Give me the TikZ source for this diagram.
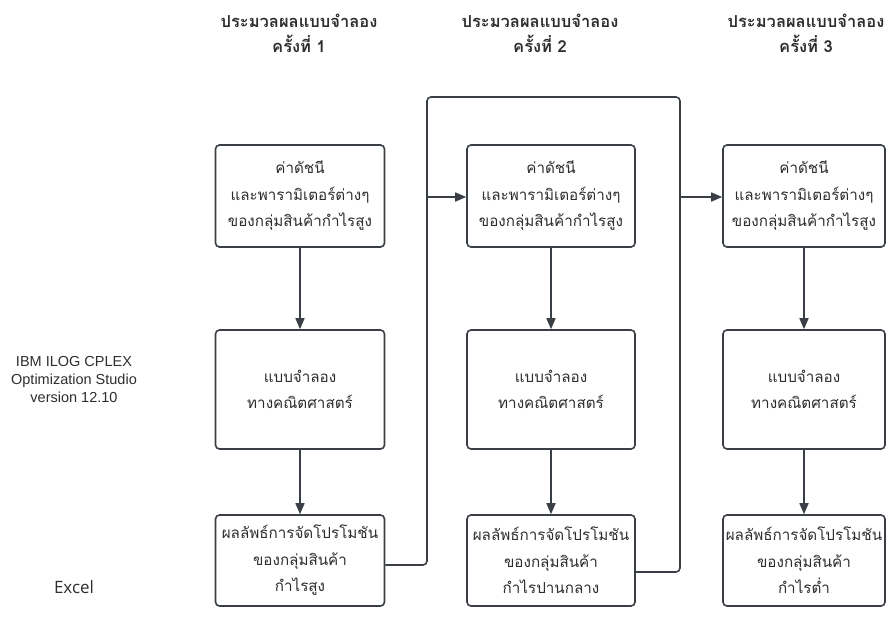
\documentclass[tikz,border=0pt]{standalone}
\usepackage{fontspec}
\setmainfont{Liberation Sans}
\newfontfamily\thaifont[Script=Thai]{Loma}
\newfontfamily\exfont{Open Sans}
\usetikzlibrary{arrows.meta}
\definecolor{linec}{HTML}{3A3E45}
\definecolor{textc}{HTML}{2E2E2E}
\tikzset{
  boxnode/.style={draw=linec, line width=1.6pt, rounded corners=4pt, fill=white,
    align=center, text=textc, font=\thaifont\fontsize{15.2}{26.5}\selectfont, inner sep=0pt},
  headnode/.style={align=center, text=textc, font=\thaifont\bfseries\fontsize{16.5}{25}\selectfont},
  conn/.style={draw=linec, line width=1.6pt, rounded corners=4pt},
  arr/.style={conn, -{Triangle[length=11pt,width=9pt]}}
}
\begin{document}
\begin{tikzpicture}[x=1pt,y=-1pt]
\useasboundingbox (0,0) rectangle (889,616);
% headers
\node[headnode] (h1) at (299,33) {ประมวลผลแบบจำลอง\\ครั้งที่ 1};
\node[headnode] (h2) at (540,33) {ประมวลผลแบบจำลอง\\ครั้งที่ 2};
\node[headnode] (h3) at (806,33) {ประมวลผลแบบจำลอง\\ครั้งที่ 3};
% side labels
\node[align=center, text=textc, font=\fontsize{14.5}{18}\selectfont] (ibm) at (74,380) {IBM ILOG CPLEX\\Optimization Studio\\version 12.10};
\node[text=textc, font=\exfont\fontsize{17}{20}\selectfont] (excel) at (74,587) {Excel};
% column 1
\node[boxnode, minimum width=169pt, minimum height=102pt] (p1) at (300,196) {ค่าดัชนี\\และพารามิเตอร์ต่างๆ\\ของกลุ่มสินค้ากำไรสูง};
\node[boxnode, minimum width=169pt, minimum height=119pt] (m1) at (300,389.5) {แบบจำลอง\\ทางคณิตศาสตร์};
\node[boxnode, minimum width=169pt, minimum height=91pt] (r1) at (300,560.5) {ผลลัพธ์การจัดโปรโมชัน\\ของกลุ่มสินค้า\\กำไรสูง};
% column 2
\node[boxnode, minimum width=168pt, minimum height=102pt] (p2) at (551,196) {ค่าดัชนี\\และพารามิเตอร์ต่างๆ\\ของกลุ่มสินค้ากำไรสูง};
\node[boxnode, minimum width=168pt, minimum height=119pt] (m2) at (551,389.5) {แบบจำลอง\\ทางคณิตศาสตร์};
\node[boxnode, minimum width=168pt, minimum height=91pt] (r2) at (551,560.5) {ผลลัพธ์การจัดโปรโมชัน\\ของกลุ่มสินค้า\\กำไรปานกลาง};
% column 3
\node[boxnode, minimum width=162pt, minimum height=102pt] (p3) at (804,196) {ค่าดัชนี\\และพารามิเตอร์ต่างๆ\\ของกลุ่มสินค้ากำไรสูง};
\node[boxnode, minimum width=162pt, minimum height=119pt] (m3) at (804,389.5) {แบบจำลอง\\ทางคณิตศาสตร์};
\node[boxnode, minimum width=162pt, minimum height=91pt] (r3) at (804,560.5) {ผลลัพธ์การจัดโปรโมชัน\\ของกลุ่มสินค้า\\กำไรต่ำ};
% vertical arrows
\foreach \c in {1,2,3}{
  \draw[arr] (p\c.south) -- (m\c.north);
  \draw[arr] (m\c.south) -- (r\c.north);
}
% routing coordinates
\coordinate (a1) at (427,565);
\coordinate (a2) at (427,97);
\coordinate (b1) at (680,97);
\coordinate (j1) at (427,197);
\coordinate (j2) at (680,197);
\coordinate (b2) at (680,572);
\draw[conn] (r1.east |- a1) -- (a1) -- (a2) -- (b1) -- (j2);
\draw[arr] (j1) -- (p2.west |- j1);
\draw[conn] (r2.east |- b2) -- (b2) -- (j2);
\draw[arr] (j2) -- (p3.west |- j2);
\end{tikzpicture}
\end{document}
